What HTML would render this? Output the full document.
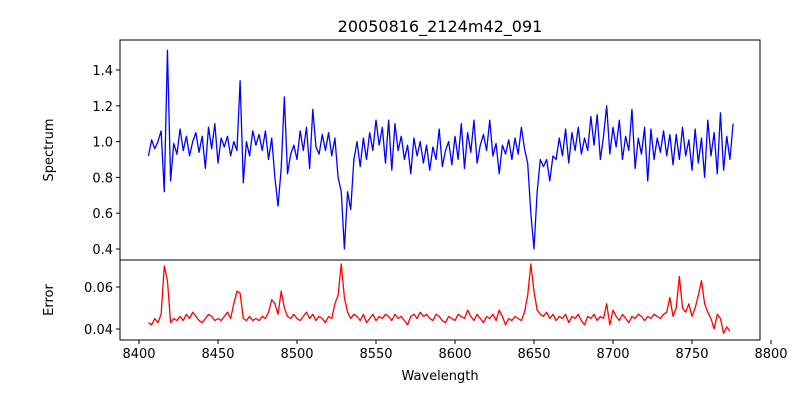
<!DOCTYPE html>
<html><head><meta charset="utf-8"><style>
html,body{margin:0;padding:0;background:#fff;}
svg text{font-family:"DejaVu Sans","Liberation Sans",sans-serif;fill:#000;}
</style></head><body>
<svg id="chart" width="800" height="400" viewBox="0 0 800 400" xmlns="http://www.w3.org/2000/svg">
<rect x="0" y="0" width="800" height="400" fill="#fff"/>
<text x="440" y="32" font-size="16" text-anchor="middle">20050816_2124m42_091</text>
<text transform="translate(53,150) rotate(-90)" font-size="13" text-anchor="middle">Spectrum</text>
<text transform="translate(53,300) rotate(-90)" font-size="13" text-anchor="middle">Error</text>
<text x="440" y="380" font-size="13" text-anchor="middle">Wavelength</text>
<g id="g"></g>
</svg>
<script>
const wStart = 8406;
const wStep = 2;
const spectrum = [0.92,1.01,0.96,1.0,1.06,0.72,1.51,0.78,0.99,0.93,1.07,0.95,1.03,0.92,1.0,1.05,0.94,1.03,0.85,1.08,0.96,1.1,0.88,1.02,0.97,1.03,0.92,1.0,0.95,1.34,0.77,1.0,0.92,1.06,0.98,1.04,0.95,1.06,0.9,1.02,0.8,0.64,0.85,1.25,0.82,0.93,0.98,0.9,1.06,0.95,1.08,0.85,1.18,0.97,0.93,1.04,0.95,1.05,0.92,1.02,0.8,0.72,0.40,0.72,0.62,0.9,1.0,0.86,1.02,0.9,1.05,0.95,1.12,0.98,1.08,0.88,1.12,0.84,1.1,0.95,1.03,0.9,0.98,0.82,1.02,0.92,1.0,0.88,0.98,0.84,0.97,0.9,1.07,0.86,0.95,1.0,0.87,1.03,0.9,1.1,0.85,1.05,0.94,1.12,0.88,0.98,1.04,0.95,1.12,0.92,0.99,0.82,0.98,0.93,1.01,0.9,1.02,0.93,1.08,0.96,0.88,0.6,0.4,0.72,0.9,0.86,0.9,0.78,0.92,0.9,1.02,0.92,1.07,0.88,1.05,0.95,1.08,0.93,1.02,0.95,1.14,0.98,1.15,0.9,1.03,1.2,0.93,1.08,0.97,1.12,0.9,1.03,0.95,1.18,0.85,1.02,0.93,1.08,0.78,1.07,0.9,1.02,0.94,1.06,0.92,1.04,0.87,1.04,0.9,1.08,0.92,1.01,0.84,1.07,0.88,1.02,0.8,1.12,0.92,1.05,0.82,1.16,0.84,1.03,0.9,1.1];
const errorVals = [0.043,0.042,0.045,0.043,0.047,0.070,0.063,0.043,0.045,0.044,0.046,0.044,0.047,0.045,0.048,0.046,0.044,0.043,0.045,0.047,0.046,0.044,0.045,0.044,0.046,0.048,0.045,0.052,0.058,0.057,0.045,0.044,0.046,0.044,0.045,0.044,0.046,0.045,0.048,0.054,0.052,0.047,0.058,0.050,0.046,0.045,0.047,0.045,0.044,0.046,0.048,0.045,0.047,0.044,0.046,0.045,0.043,0.046,0.045,0.052,0.056,0.071,0.055,0.048,0.045,0.047,0.046,0.044,0.047,0.043,0.045,0.047,0.044,0.046,0.045,0.047,0.046,0.044,0.047,0.045,0.046,0.044,0.042,0.046,0.047,0.045,0.048,0.046,0.047,0.045,0.044,0.047,0.046,0.044,0.043,0.046,0.045,0.044,0.047,0.046,0.045,0.049,0.046,0.044,0.047,0.045,0.043,0.046,0.045,0.047,0.044,0.049,0.046,0.042,0.045,0.044,0.046,0.045,0.044,0.048,0.056,0.071,0.058,0.049,0.047,0.046,0.048,0.045,0.047,0.044,0.046,0.045,0.047,0.043,0.046,0.045,0.047,0.044,0.042,0.046,0.045,0.047,0.044,0.046,0.045,0.052,0.042,0.049,0.046,0.044,0.047,0.045,0.043,0.046,0.045,0.047,0.046,0.044,0.046,0.045,0.047,0.046,0.045,0.047,0.048,0.055,0.046,0.05,0.065,0.05,0.048,0.052,0.046,0.05,0.056,0.063,0.052,0.048,0.045,0.04,0.047,0.045,0.038,0.041,0.039];
const xTicks = [8400,8450,8500,8550,8600,8650,8700,8750,8800];
const specTicks = [0.4,0.6,0.8,1.0,1.2,1.4];
const errTicks = [0.04,0.06];

const NS = "http://www.w3.org/2000/svg";
const g = document.getElementById('g');
const L = 120, R = 760, T1 = 40, B1 = 260, T2 = 260, B2 = 340;
const xS = w => 139 + (w - 8400) * 1.58;
const yS = v => 141.6 - (v - 1) * 179;
const yE = v => 329 - (v - 0.04) * 2100;
function mk(tag, attrs){ const e = document.createElementNS(NS, tag); for (const k in attrs) e.setAttribute(k, attrs[k]); g.appendChild(e); return e; }

function line(vals, ys, color, name){
  const pts = vals.map((v,i)=> xS(wStart + wStep*i).toFixed(2) + ',' + ys(v).toFixed(2)).join(' ');
  const p = mk('polyline', {points: pts, fill: 'none', stroke: color, 'stroke-width': 1.3, 'stroke-linejoin': 'round'});
  
  
}
line(spectrum, yS, '#0000ff', 'spectrum-line');
line(errorVals, yE, '#ff0000', 'error-line');

const f1 = mk('rect', {x: L, y: T1, width: R-L, height: B1-T1, fill: 'none', stroke: '#000', 'stroke-width': 1});


const f2 = mk('rect', {x: L, y: T2, width: R-L, height: B2-T2, fill: 'none', stroke: '#000', 'stroke-width': 1});



xTicks.forEach(t=>{
  const x = xS(t);
  mk('line', {x1: x, x2: x, y1: B2, y2: B2+4, stroke: '#000', 'stroke-width': 1});
  const tx = mk('text', {x: x, y: B2+18, 'font-size': 13, 'text-anchor': 'middle'});
  tx.textContent = t;
  
  
});
specTicks.forEach(t=>{
  const y = yS(t);
  mk('line', {x1: L-4, x2: L, y1: y, y2: y, stroke: '#000', 'stroke-width': 1});
  const tx = mk('text', {x: L-7, y: y+5, 'font-size': 13, 'text-anchor': 'end'});
  tx.textContent = t.toFixed(1);
  
  
});
errTicks.forEach(t=>{
  const y = yE(t);
  mk('line', {x1: L-4, x2: L, y1: y, y2: y, stroke: '#000', 'stroke-width': 1});
  const tx = mk('text', {x: L-7, y: y+5, 'font-size': 13, 'text-anchor': 'end'});
  tx.textContent = t.toFixed(2);
  
  
});
</script>
</body></html>
